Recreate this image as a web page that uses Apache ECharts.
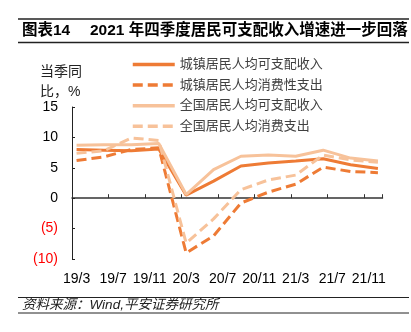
<!DOCTYPE html>
<html><head><meta charset="utf-8">
<script src="https://cdn.jsdelivr.net/npm/echarts@6/dist/echarts.min.js"></script>
<style>html,body{margin:0;padding:0;background:#fff}#c{width:411px;height:332px}</style>
</head><body><div id="c"></div>
<script>
// monthly category slots (x axis)
const months = ['19/3','19/4','19/5','19/6','19/7','19/8','19/9','19/10','19/11','19/12',
  '20/1','20/2','20/3','20/4','20/5','20/6','20/7','20/8','20/9','20/10','20/11','20/12',
  '21/1','21/2','21/3','21/4','21/5','21/6','21/7','21/8','21/9','21/10','21/11','21/12'];
// quarterly observation dates
const quarters = ['19/3','19/6','19/9','19/12','20/3','20/6','20/9','20/12','21/3','21/6','21/9','21/12'];
const seriesNames = ['城镇居民人均可支配收入','城镇居民人均消费性支出','全国居民人均可支配收入','全国居民人均消费支出'];
const urbanIncome = [8.0, 7.9, 7.8, 8.1, 0.5, 2.8, 5.3, 5.8, 6.1, 6.5, 5.5, 4.9];
const urbanSpend  = [6.2, 6.8, 8.0, 8.3, -9.0, -6.2, -0.8, 1.0, 2.3, 5.1, 4.4, 4.2];
const natIncome   = [8.7, 8.8, 8.8, 9.0, 0.6, 4.7, 6.9, 7.1, 6.9, 7.9, 6.6, 6.1];
const natSpend    = [7.4, 7.8, 9.9, 9.5, -7.4, -3.4, 1.4, 3.0, 3.8, 7.1, 6.3, 5.9];
const yTicks = [-10, -5, 0, 5, 10, 15];

const DARK = '#EE7B35', LIGHT = '#F7C29A';
const CJK = '"Liberation Sans", "Noto Sans CJK SC", sans-serif';

function toMonthly(vals) {
  return months.map(m => { const i = quarters.indexOf(m); return i >= 0 ? vals[i] : null; });
}
function mk(name, vals, color, dashed) {
  return {
    name, type: 'line', xAxisIndex: 0, data: toMonthly(vals), connectNulls: true,
    symbol: 'none', smooth: false,
    lineStyle: { color, width: 3, type: dashed ? [10, 5] : 'solid' },
    itemStyle: { color }
  };
}

const chart = echarts.init(document.getElementById('c'), null, { renderer: 'canvas' });
chart.setOption({
  animation: false,
  backgroundColor: '#fff',
  grid: { left: 72, right: 28.5, top: 107, height: 152, containLabel: false },
  legend: {
    orient: 'vertical', left: 131, top: 58, padding: 0, itemWidth: 42, itemHeight: 14, itemGap: 7.6,
    data: seriesNames,
    itemStyle: { opacity: 0 },
    lineStyle: { width: 3.5 },
    textStyle: { fontSize: 13, color: '#404040', fontFamily: CJK }
  },
  xAxis: [
    {
      type: 'category', data: months, boundaryGap: true, position: 'bottom',
      axisLine: { show: false, onZero: false },
      axisTick: { show: false },
      axisLabel: { interval: 3, fontSize: 14, color: '#000', margin: 13, fontFamily: '"Liberation Sans", Arial, sans-serif' },
      splitLine: { show: false }
    },
    {
      type: 'category', data: months, boundaryGap: true, position: 'bottom',
      axisLine: { show: true, onZero: true, lineStyle: { color: '#333', width: 1.5 } },
      axisTick: { show: true, interval: 3, inside: true, length: 4, lineStyle: { color: '#333', width: 1 } },
      axisLabel: { show: false },
      splitLine: { show: false }
    }
  ],
  yAxis: {
    type: 'value', min: -10, max: 15, interval: 5,
    axisLine: { show: true, lineStyle: { color: '#222', width: 1 } },
    axisTick: { show: true, inside: true, length: 3, lineStyle: { color: '#222' } },
    splitLine: { show: false },
    axisLabel: {
      fontSize: 14, margin: 14, fontFamily: '"Liberation Sans", Arial, sans-serif',
      formatter: v => v < 0 ? '(' + (-v) + ')' : String(v),
      color: v => (Number(v) < 0 ? '#FF0000' : '#000')
    }
  },
  series: [
    mk(seriesNames[0], urbanIncome, DARK, false),
    mk(seriesNames[1], urbanSpend, DARK, true),
    mk(seriesNames[2], natIncome, LIGHT, false),
    mk(seriesNames[3], natSpend, LIGHT, true)
  ],
  graphic: [
    { type: 'line', shape: { x1: 18, y1: 19, x2: 409, y2: 19 }, style: { stroke: '#222', lineWidth: 1.5 } },
    { type: 'line', shape: { x1: 18, y1: 42.5, x2: 409, y2: 42.5 }, style: { stroke: '#222', lineWidth: 1.5 } },
    { type: 'text', left: 22, top: 23, style: { text: '图表14', font: 'bold 15.5px ' + CJK, fill: '#000' } },
    { type: 'text', left: 90, top: 23, style: { text: '2021 年四季度居民可支配收入增速进一步回落', font: 'bold 15.5px ' + CJK, fill: '#000' } },
    { type: 'text', left: 40, top: 62, style: { text: '当季同\n比，%', font: '14px ' + CJK, lineHeight: 20, fill: '#222' } },
    { type: 'line', shape: { x1: 18, y1: 297.5, x2: 409, y2: 297.5 }, style: { stroke: '#222', lineWidth: 1 } },
    { type: 'line', shape: { x1: 18, y1: 313, x2: 409, y2: 313 }, style: { stroke: '#222', lineWidth: 1 } },
    { type: 'text', left: 22, top: 298.5, style: { text: '资料来源：Wind,平安证券研究所', font: 'italic 13.5px ' + CJK, fill: '#222' } }
  ]
});
</script>
</body></html>
